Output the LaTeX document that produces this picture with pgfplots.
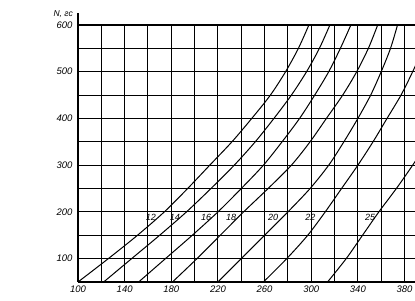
\documentclass[border=0pt]{standalone}
\usepackage{fontspec}
\setmainfont{Liberation Sans}
\usepackage{pgfplots}
\pgfplotsset{compat=1.18}
\begin{document}
\begin{tikzpicture}
\begin{axis}[
  scale only axis, width=337pt, height=257pt,
  xmin=100, xmax=389, ymin=50, ymax=600,
  xtick={100,120,...,380},
  xticklabels={100,,140,,180,,220,,260,,300,,340,,380},
  ytick={50,100,...,600},
  yticklabels={,100,,200,,300,,400,,500,,600},
  grid=major,
  major grid style={black, line width=1.05pt},
  major tick length=0pt,
  axis x line*=bottom, axis y line*=left,
  axis line style={-, line width=1.4pt},
  every outer x axis line/.append style={-},
  every outer y axis line/.append style={-},
  ticklabel style={font=\fontsize{9.5}{10}\selectfont\itshape},
  xticklabel style={yshift=-0.5pt},
  yticklabel style={xshift=-2pt},
]
\coordinate (sw) at (rel axis cs:0,0);
\coordinate (ne) at (rel axis cs:1,1);
\coordinate (tl) at (rel axis cs:0,1);
% 12
\addplot[black, line width=1pt, smooth] coordinates {(100,50)(126,100)(151,150)(174,200)(194,250)(213,300)(232,350)(249,400)(265,450)(278,500)(289,550)(298,600)};
% 14
\addplot[black, line width=1pt, smooth] coordinates {(122,50)(146,100)(170,150)(193,200)(214,250)(234,300)(252,350)(268,400)(283,450)(296,500)(307,550)(316,600)};
% 16
\addplot[black, line width=1pt, smooth] coordinates {(152,50)(175,100)(198,150)(220,200)(240,250)(259,300)(275,350)(290,400)(303,450)(315,500)(325,550)(334,600)};
% 18
\addplot[black, line width=1pt, smooth] coordinates {(181,50)(202,100)(222,150)(242,200)(263,250)(283,300)(299,350)(313,400)(327,450)(339,500)(349,550)(357,600)};
% 20
\addplot[black, line width=1pt, smooth] coordinates {(220,50)(240,100)(260,150)(280,200)(299,250)(315,300)(328,350)(340,400)(351,450)(360,500)(368,550)(374,600)};
% 22
\addplot[black, line width=1pt, smooth] coordinates {(259,50)(279,100)(297,150)(312,200)(326,250)(340,300)(353,350)(365,400)(377,450)(387,500)(396,550)};
% 25
\addplot[black, line width=1pt, smooth] coordinates {(314,50)(330,100)(344,150)(358,200)(373,250)(387,300)(400,350)};
\end{axis}
\begin{axis}[
  scale only axis, width=337pt, height=257pt,
  xmin=100, xmax=389, ymin=50, ymax=600,
  hide axis, clip=false]
\node[font=\fontsize{9}{10}\selectfont\itshape] at (axis cs:162.5,188) {12};
\node[font=\fontsize{9}{10}\selectfont\itshape] at (axis cs:183,188) {14};
\node[font=\fontsize{9}{10}\selectfont\itshape] at (axis cs:209.8,188) {16};
\node[font=\fontsize{9}{10}\selectfont\itshape] at (axis cs:231.3,188) {18};
\node[font=\fontsize{9}{10}\selectfont\itshape] at (axis cs:267.4,188) {20};
\node[font=\fontsize{9}{10}\selectfont\itshape] at (axis cs:299.2,188) {22};
\node[font=\fontsize{9}{10}\selectfont\itshape] at (axis cs:350.5,188) {25};
\end{axis}
\draw[line width=1.4pt] (tl) -- ++(0,12pt);
\node[anchor=east, inner sep=0pt, font=\fontsize{8.5}{9}\selectfont\itshape] at ([xshift=-5pt,yshift=11pt]tl) {N, гс};
\pgfresetboundingbox
\path ([xshift=-78pt,yshift=-19pt]sw) rectangle ([yshift=25pt]ne);
\end{tikzpicture}
\end{document}
